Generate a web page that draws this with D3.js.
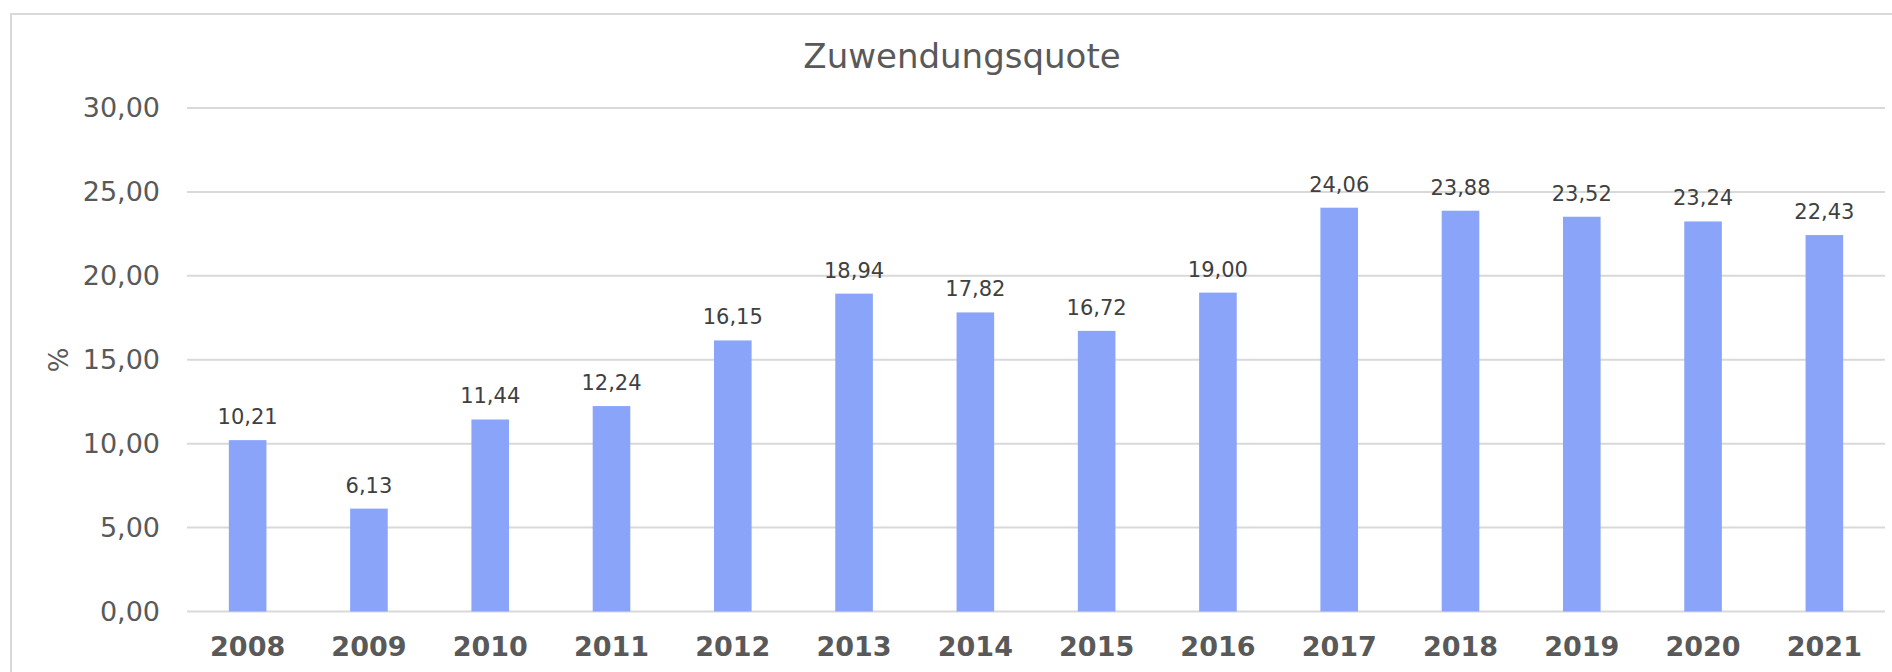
<!DOCTYPE html>
<html>
<head>
<meta charset="utf-8">
<script src="https://cdn.jsdelivr.net/npm/d3@7"></script>
<style>
  html, body { margin: 0; padding: 0; background: #fff; }
  svg { display: block; font-family: 'DejaVu Sans', sans-serif; }
</style>
</head>
<body>
<svg id="chart" width="1892" height="672"></svg>
<script>
'use strict';

var years = ['2008', '2009', '2010', '2011', '2012', '2013', '2014',
  '2015', '2016', '2017', '2018', '2019', '2020', '2021'];
var quota = [10.21, 6.13, 11.44, 12.24, 16.15, 18.94, 17.82,
  16.72, 19.00, 24.06, 23.88, 23.52, 23.24, 22.43];
var yTicks = [0, 5, 10, 15, 20, 25, 30];

var W = 1892, H = 672;
var margin = {left: 187, right: 7, top: 108, bottom: 60};

var svg = d3.select('#chart');

// chart frame
svg.append('rect')
  .attr('x', 11).attr('y', 14)
  .attr('width', W + 20).attr('height', H + 20)
  .attr('fill', 'none')
  .attr('stroke', '#d9d9d9')
  .attr('stroke-width', 2);

var x = d3.scaleBand()
  .domain(years)
  .range([margin.left, W - margin.right])
  .paddingInner(0.69)
  .paddingOuter(0.345);

var y = d3.scaleLinear()
  .domain([0, 30])
  .range([611.5, margin.top]);

var fmt = function (v) { return d3.format('.2f')(v).replace('.', ','); };

// gridlines
svg.append('g').selectAll('line')
  .data(yTicks).enter().append('line')
  .attr('x1', margin.left).attr('x2', W - margin.right)
  .attr('y1', function (d) { return y(d); })
  .attr('y2', function (d) { return y(d); })
  .attr('stroke', '#d9d9d9')
  .attr('stroke-width', 2);

// y axis labels
var yAxis = d3.axisLeft(y).tickValues(yTicks).tickFormat(fmt).tickSize(0).tickPadding(27);
var gy = svg.append('g')
  .attr('transform', 'translate(' + margin.left + ',0)')
  .call(yAxis);
gy.select('.domain').remove();
gy.selectAll('text')
  .attr('fill', '#595959')
  .style('font-size', '27px')
  .style('font-family', "'DejaVu Sans', sans-serif");

// x axis labels
var xAxis = d3.axisBottom(x).tickSize(0).tickPadding(25);
var gx = svg.append('g')
  .attr('transform', 'translate(0,' + y(0) + ')')
  .call(xAxis);
gx.select('.domain').remove();
gx.selectAll('text')
  .attr('fill', '#595959')
  .style('font-size', '27px')
  .style('font-weight', 'bold')
  .style('font-family', "'DejaVu Sans', sans-serif");

// bars
var rows = years.map(function (yr, i) { return {year: yr, value: quota[i]}; });
svg.append('g').selectAll('rect')
  .data(rows).enter().append('rect')
  .attr('x', function (d) { return x(d.year); })
  .attr('y', function (d) { return y(d.value); })
  .attr('width', x.bandwidth())
  .attr('height', function (d) { return y(0) - y(d.value); })
  .attr('fill', '#8aa4f9');

// value labels
svg.append('g').selectAll('text')
  .data(rows).enter().append('text')
  .attr('x', function (d) { return x(d.year) + x.bandwidth() / 2; })
  .attr('y', function (d) { return y(d.value) - 16; })
  .attr('text-anchor', 'middle')
  .attr('fill', '#404040')
  .style('font-size', '21px')
  .text(function (d) { return fmt(d.value); });

// title
svg.append('text')
  .attr('x', 962).attr('y', 68)
  .attr('text-anchor', 'middle')
  .attr('fill', '#595959')
  .style('font-size', '34px')
  .text('Zuwendungsquote');

// y axis title
svg.append('text')
  .attr('transform', 'translate(68,360) rotate(-90)')
  .attr('text-anchor', 'middle')
  .attr('fill', '#595959')
  .style('font-size', '26px')
  .text('%');
</script>
</body>
</html>
